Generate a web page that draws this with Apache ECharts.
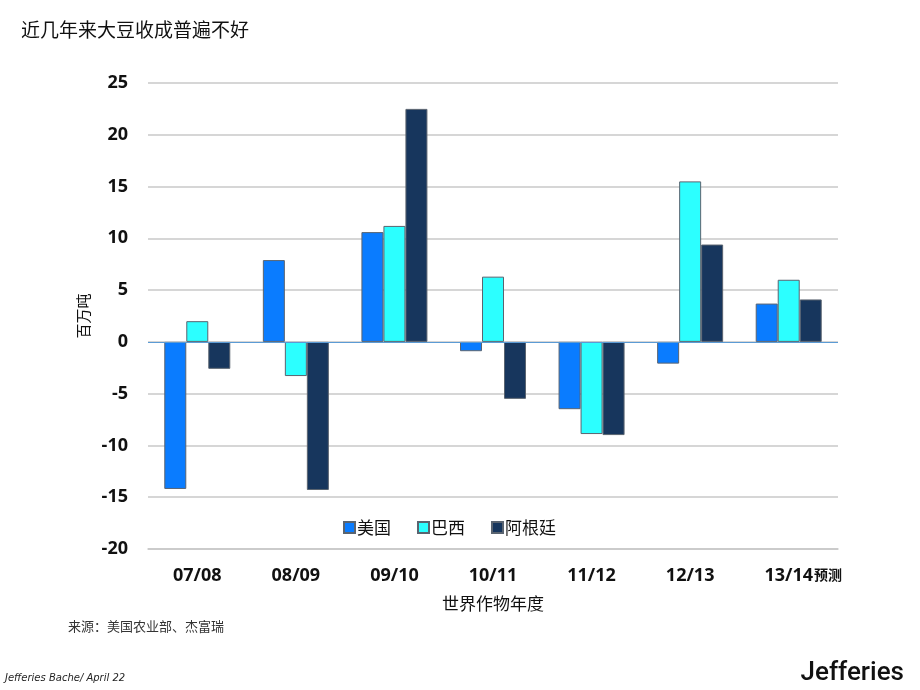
<!DOCTYPE html>
<html><head><meta charset="utf-8">
<script src="https://cdn.jsdelivr.net/npm/echarts@6/dist/echarts.min.js"></script>
<style>html,body{margin:0;padding:0;background:#fff}#c{width:920px;height:690px}</style>
</head><body><div id="c"></div>
<script>
const categories = ['07/08','08/09','09/10','10/11','11/12','12/13','13/14'];
const usa = [-14.2, 7.9, 10.6, -0.9, -6.5, -2.1, 3.7];
const brazil = [2.0, -3.3, 11.2, 6.3, -8.9, 15.5, 6.0];
const argentina = [-2.6, -14.3, 22.5, -5.5, -9.0, 9.4, 4.1];
const seriesNames = ['美国','巴西','阿根廷'];
const colors = ['#0A7CFF','#2CFFFF','#17365D'];

const chart = echarts.init(document.getElementById('c'));
const cjk = '"Noto Sans CJK SC", sans-serif';
function bar(name, data, color){
  return {name, type:'bar', data, barWidth:22, barGap:'0%',
    itemStyle:{color, borderColor:'#5a6470', borderWidth:1}};
}
const s = [bar(seriesNames[0], usa, colors[0]), bar(seriesNames[1], brazil, colors[1]), bar(seriesNames[2], argentina, colors[2])];
s[2].markLine = {silent:true, symbol:'none', label:{show:false},
  lineStyle:{color:'#5B9BD5', width:1, type:'solid'}, data:[{yAxis:0}]};
chart.setOption({
  animation:false,
  title:{text:'近几年来大豆收成普遍不好', left:16, top:15,
    textStyle:{fontFamily:cjk, fontSize:19, fontWeight:'normal', color:'#111'}},
  grid:{left:148, right:82, top:83, bottom:141},
  legend:{data:seriesNames, left:338, top:514, itemWidth:11, itemHeight:11, itemGap:26, icon:'rect',
    textStyle:{fontFamily:cjk, fontSize:17, color:'#111', padding:[0,0,0,-3]}},
  xAxis:{type:'category', data:categories,
    axisLine:{show:true, onZero:false, lineStyle:{color:'#c8c8c8', width:1.5}},
    axisTick:{show:false},
    axisLabel:{margin:18, interval:0, color:'#111', fontFamily:'"Open Sans", sans-serif', fontWeight:'bold', fontSize:18,
      formatter:(v)=> v==='13/14' ? '{p|}{b|'+v+'}{s|预测}' : '{b|'+v+'}',
      rich:{b:{fontFamily:'"Open Sans", sans-serif', fontWeight:'bold', fontSize:18, color:'#111'},
            p:{width:30},
            s:{fontFamily:cjk, fontSize:14, color:'#111', width:30, padding:[0,0,2,0]}}},
    name:'世界作物年度', nameLocation:'middle', nameGap:46,
    nameTextStyle:{fontFamily:cjk, fontSize:17, color:'#111'}},
  yAxis:{type:'value', min:-20, max:25, interval:5,
    axisLine:{show:false}, axisTick:{show:false},
    splitLine:{lineStyle:{color:'#c8c8c8', width:1.5}},
    axisLabel:{margin:20, color:'#111', fontFamily:'"Open Sans", sans-serif', fontWeight:'bold', fontSize:18},
    name:'百万吨', nameLocation:'middle', nameGap:48, nameRotate:90,
    nameTextStyle:{fontFamily:cjk, fontSize:15, color:'#111'}},
  graphic:[
    {type:'text', left:68, top:620, style:{text:'来源：美国农业部、杰富瑞', font:'13px "Noto Sans CJK SC"', fill:'#333'}},
    {type:'text', left:5, top:673, style:{text:'Jefferies Bache/ April 22', font:'italic 10px "DejaVu Sans"', fill:'#222'}},
    {type:'text', right:16, top:660, style:{text:'Jefferies', font:'500 26px "Liberation Sans Narrow", "Roboto", sans-serif', fill:'#111'}}
  ],
  series:s
});
</script></body></html>
